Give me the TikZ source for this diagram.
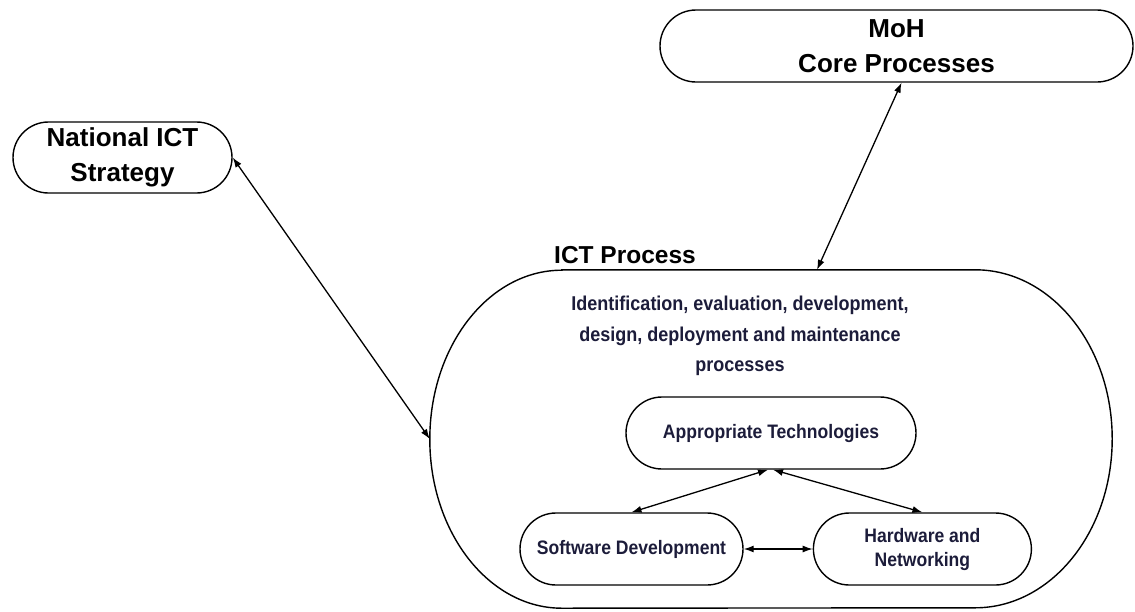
\documentclass[tikz,border=0pt]{standalone}
\usepackage{fontspec}
\setmainfont{Liberation Sans}
\newfontfamily\boxfont[FakeStretch=0.9]{Liberation Sans}
\usetikzlibrary{positioning,shapes.misc,arrows.meta}
\definecolor{inktext}{RGB}{28,28,58}
\tikzset{
  outerbox/.style={draw, rounded rectangle, line width=1.4pt, inner sep=0pt, align=center, font=\fontsize{26}{35}\selectfont\bfseries},
  innerbox/.style={draw, rounded rectangle, line width=1.4pt, inner sep=0pt, align=center, minimum height=72pt, text=inktext, font=\boxfont\fontsize{19.5}{24}\selectfont\bfseries},
  link/.style={{Latex[length=10pt,width=7pt]}-{Latex[length=10pt,width=7pt]}, line width=1.3pt}
}
\begin{document}
\begin{tikzpicture}[x=1pt,y=-1pt]
  \useasboundingbox (0,0) rectangle (1135,611);
  \node (nat) [outerbox, minimum width=219pt, minimum height=71pt] at (122.5,157.5) {National ICT\\Strategy};
  \node (moh) [outerbox, minimum width=473pt, minimum height=72pt] at (896.5,46) {MoH\\Core Processes};
  \node (ict) [minimum width=682pt, minimum height=338pt, inner sep=0pt] at (771,439) {};
  \draw[line width=1.4pt] ([xshift=132pt]ict.north west) -- ([xshift=-137pt]ict.north east)
    arc[start angle=90, end angle=0, x radius=137pt, y radius=169pt]
    arc[start angle=0, end angle=-90, x radius=137pt, y radius=169pt]
    -- ([xshift=132pt]ict.south west)
    arc[start angle=-90, end angle=-180, x radius=132pt, y radius=169pt]
    arc[start angle=180, end angle=90, x radius=132pt, y radius=169pt] -- cycle;
  \node (ictlbl) at (625,255) [font=\fontsize{24.5}{30}\selectfont\bfseries] {ICT Process};
  \node (desc) at (740,336) [align=center, text=inktext, font=\boxfont\fontsize{20}{30.5}\selectfont\bfseries] {Identification, evaluation, development,\\design, deployment and maintenance\\processes};
  \node (tech) [innerbox, minimum width=290pt] at (771,433) {Appropriate Technologies};
  \node (soft) [innerbox, minimum width=223pt] at (631.5,549) {Software Development};
  \node (hard) [innerbox, minimum width=218pt, right=69pt of soft] {Hardware and\\Networking};

  \draw[link] (nat.east) -- (ict.west);
  \draw[link] ([xshift=5pt]moh.south) -- ([xshift=46pt]ict.north);
  \draw[link] ([xshift=-3pt]tech.south) -- (soft.north);
  \draw[link] ([xshift=2pt]tech.south) -- (hard.north);
  \draw[link] (soft.east) -- (hard.west);
\end{tikzpicture}
\end{document}
